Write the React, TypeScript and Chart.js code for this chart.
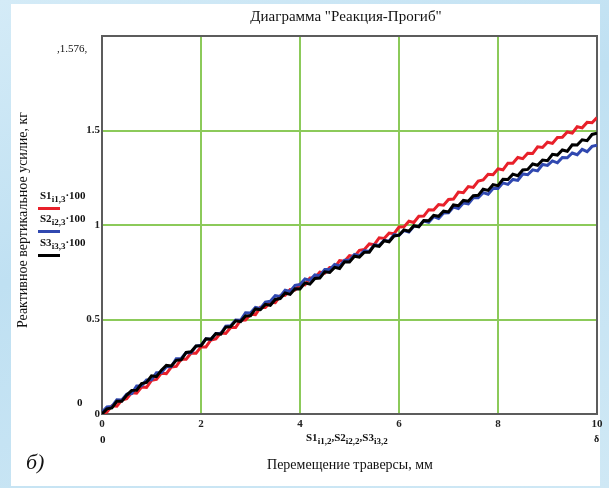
import React, { useEffect, useRef } from "react";
import { Chart, registerables } from "chart.js";
Chart.register(...registerables);

const xValues = [0, 0.1, 0.2, 0.3, 0.4, 0.5, 0.6, 0.7, 0.8, 0.9, 1, 1.1, 1.2, 1.3, 1.4, 1.5, 1.6, 1.7, 1.8, 1.9, 2, 2.1, 2.2, 2.3, 2.4, 2.5, 2.6, 2.7, 2.8, 2.9, 3, 3.1, 3.2, 3.3, 3.4, 3.5, 3.6, 3.7, 3.8, 3.9, 4, 4.1, 4.2, 4.3, 4.4, 4.5, 4.6, 4.7, 4.8, 4.9, 5, 5.1, 5.2, 5.3, 5.4, 5.5, 5.6, 5.7, 5.8, 5.9, 6, 6.1, 6.2, 6.3, 6.4, 6.5, 6.6, 6.7, 6.8, 6.9, 7, 7.1, 7.2, 7.3, 7.4, 7.5, 7.6, 7.7, 7.8, 7.9, 8, 8.1, 8.2, 8.3, 8.4, 8.5, 8.6, 8.7, 8.8, 8.9, 9, 9.1, 9.2, 9.3, 9.4, 9.5, 9.6, 9.7, 9.8, 9.9, 10];

const s1Values = [0.0, 0.01, 0.043, 0.041, 0.074, 0.081, 0.113, 0.11, 0.143, 0.141, 0.178, 0.183, 0.216, 0.213, 0.248, 0.252, 0.29, 0.29, 0.323, 0.322, 0.355, 0.355, 0.392, 0.397, 0.429, 0.426, 0.458, 0.458, 0.496, 0.497, 0.528, 0.526, 0.564, 0.563, 0.591, 0.589, 0.625, 0.628, 0.658, 0.656, 0.686, 0.683, 0.719, 0.719, 0.751, 0.746, 0.775, 0.775, 0.812, 0.808, 0.838, 0.834, 0.866, 0.871, 0.9, 0.896, 0.932, 0.929, 0.957, 0.954, 0.989, 0.99, 1.02, 1.013, 1.046, 1.047, 1.081, 1.079, 1.108, 1.105, 1.135, 1.137, 1.174, 1.171, 1.203, 1.199, 1.232, 1.238, 1.268, 1.266, 1.297, 1.292, 1.327, 1.327, 1.357, 1.351, 1.38, 1.378, 1.414, 1.41, 1.438, 1.432, 1.463, 1.464, 1.492, 1.486, 1.52, 1.514, 1.543, 1.541, 1.568];

const s2Values = [0.01, 0.037, 0.04, 0.075, 0.074, 0.105, 0.108, 0.148, 0.149, 0.18, 0.181, 0.218, 0.219, 0.25, 0.251, 0.292, 0.294, 0.325, 0.324, 0.359, 0.364, 0.398, 0.395, 0.426, 0.426, 0.465, 0.467, 0.497, 0.496, 0.535, 0.534, 0.564, 0.559, 0.592, 0.596, 0.626, 0.622, 0.655, 0.648, 0.681, 0.685, 0.715, 0.707, 0.736, 0.732, 0.764, 0.764, 0.791, 0.783, 0.813, 0.813, 0.844, 0.837, 0.864, 0.86, 0.895, 0.892, 0.919, 0.914, 0.949, 0.945, 0.971, 0.963, 0.993, 0.994, 1.021, 1.014, 1.044, 1.034, 1.064, 1.065, 1.095, 1.087, 1.116, 1.112, 1.144, 1.144, 1.171, 1.163, 1.193, 1.193, 1.223, 1.215, 1.241, 1.236, 1.27, 1.266, 1.292, 1.286, 1.32, 1.315, 1.339, 1.329, 1.357, 1.356, 1.381, 1.372, 1.4, 1.388, 1.416, 1.422];

const s3Values = [0.0, 0.027, 0.032, 0.067, 0.067, 0.1, 0.125, 0.126, 0.161, 0.167, 0.202, 0.198, 0.232, 0.257, 0.254, 0.284, 0.287, 0.326, 0.329, 0.36, 0.361, 0.398, 0.396, 0.425, 0.422, 0.459, 0.462, 0.493, 0.489, 0.519, 0.52, 0.556, 0.552, 0.58, 0.575, 0.606, 0.611, 0.64, 0.633, 0.663, 0.662, 0.694, 0.687, 0.717, 0.719, 0.752, 0.749, 0.776, 0.77, 0.805, 0.804, 0.835, 0.83, 0.856, 0.856, 0.892, 0.887, 0.917, 0.911, 0.942, 0.946, 0.974, 0.967, 0.996, 0.99, 1.024, 1.023, 1.051, 1.046, 1.073, 1.069, 1.106, 1.102, 1.13, 1.126, 1.155, 1.157, 1.189, 1.183, 1.213, 1.208, 1.242, 1.241, 1.269, 1.261, 1.291, 1.294, 1.323, 1.316, 1.344, 1.34, 1.374, 1.37, 1.397, 1.39, 1.424, 1.423, 1.451, 1.446, 1.479, 1.485];

const xTickLabels = ["0", "2", "4", "6", "8", "10"];
const yTickLabels = ["0", "0.5", "1", "1.5"];

const FONT = "'Liberation Serif', 'Times New Roman', serif";

const framePlugin = {
  id: "frame",
  beforeDatasetsDraw(chart: any) {
    const { ctx, chartArea: a } = chart;
    ctx.save();
    ctx.strokeStyle = "#5c5c5c";
    ctx.lineWidth = 2;
    ctx.strokeRect(a.left, a.top, a.right - a.left, a.bottom - a.top);
    ctx.restore();
  },
};

const abs = (x: number, y: number, extra: any = {}) => ({
  position: "absolute" as const,
  left: x,
  top: y,
  whiteSpace: "nowrap" as const,
  fontFamily: FONT,
  color: "#111",
  ...extra,
});

export default function App() {
  const ref = useRef<HTMLCanvasElement>(null);
  useEffect(() => {
    const mk = (vals: number[]) => xValues.map((x, i) => ({ x, y: vals[i] }));
    const chart = new Chart(ref.current!, {
      type: "line",
      data: {
        datasets: [
          { label: "S3", data: mk(s3Values), borderColor: "#000000", borderWidth: 3, pointRadius: 0, tension: 0 },
          { label: "S2", data: mk(s2Values), borderColor: "#3048b0", borderWidth: 3, pointRadius: 0, tension: 0 },
          { label: "S1", data: mk(s1Values), borderColor: "#e8202a", borderWidth: 3, pointRadius: 0, tension: 0 },
        ],
      },
      options: {
        animation: false,
        responsive: false,
        events: [],
        layout: { padding: { left: 0, top: 36, right: 12, bottom: 0 } },
        plugins: { legend: { display: false }, tooltip: { enabled: false }, title: { display: false } },
        scales: {
          x: {
            type: "linear",
            min: 0,
            max: 10,
            afterFit: (s: any) => { s.height = 74; },
            ticks: {
              stepSize: 2,
              padding: 4,
              color: "#222",
              font: { family: FONT, size: 11, weight: "bold" },
              callback: (v: any) => xTickLabels[Math.round(Number(v) / 2)] ?? "",
            },
            grid: {
              color: (c: any) => (c.tick && (c.tick.value === 0 || c.tick.value === 10) ? "rgba(0,0,0,0)" : "#8cca5a"),
              lineWidth: 2,
              drawTicks: false,
            },
            border: { display: false },
          },
          y: {
            type: "linear",
            min: 0,
            max: 2,
            afterFit: (s: any) => { s.width = 102; },
            ticks: {
              stepSize: 0.5,
              padding: 2,
              color: "#222",
              font: { family: FONT, size: 11, weight: "bold" },
              callback: (v: any) => yTickLabels[Math.round(Number(v) * 2)] ?? "",
            },
            grid: {
              color: (c: any) => (c.tick && (c.tick.value === 0 || c.tick.value === 2) ? "rgba(0,0,0,0)" : "#8cca5a"),
              lineWidth: 2,
              drawTicks: false,
            },
            border: { display: false },
          },
        },
      },
      plugins: [framePlugin],
    });
    return () => chart.destroy();
  }, []);

  const legendItem = (name: string, sub: string, color: string, y: number) => (
    <div style={abs(40, y, { fontSize: 11, fontWeight: "bold" })}>
      <span>{name}</span>
      <sub style={{ fontSize: 9 }}>{sub}</sub>
      <span>·100</span>
      <div style={{ position: "absolute", left: -2, top: 18, width: 22, height: 3, background: color }} />
    </div>
  );

  return (
    <div
      style={{
        position: "fixed",
        left: 0,
        top: 0,
        width: 609,
        height: 488,
        overflow: "hidden",
        background: "linear-gradient(160deg, #d4ebf7 0%, #bfe0f2 40%, #cfe8f5 100%)",
      }}
    >
      <div style={{ position: "absolute", left: 11, top: 4, width: 589, height: 482, background: "#fff" }} />
      <canvas ref={ref} width={609} height={488} style={{ position: "absolute", left: 0, top: 0 }} />
      <div style={abs(0, 8, { width: 692, textAlign: "center", fontSize: 15 })}>Диаграмма "Реакция-Прогиб"</div>
      <div style={abs(57, 42, { fontSize: 11 })}>,1.576,</div>
      <div style={abs(77, 396, { fontSize: 11, fontWeight: "bold" })}>0</div>
      <div
        style={abs(23, 220, {
          fontSize: 14,
          transform: "translate(-50%, -50%) rotate(-90deg)",
        })}
      >
        Реактивное вертикальное усилие, кг
      </div>
      {legendItem("S1", "i1,3", "#e8202a", 189)}
      {legendItem("S2", "i2,3", "#3048b0", 212)}
      {legendItem("S3", "i3,3", "#000000", 236)}
      <div style={abs(100, 433, { fontSize: 11, fontWeight: "bold" })}>0</div>
      <div style={abs(306, 431, { fontSize: 11, fontWeight: "bold" })}>
        S1<sub style={{ fontSize: 9 }}>i1,2</sub>,S2<sub style={{ fontSize: 9 }}>i2,2</sub>,S3<sub style={{ fontSize: 9 }}>i3,2</sub>
      </div>
      <div style={abs(594, 433, { fontSize: 10, fontWeight: "bold" })}>δ</div>
      <div style={abs(26, 449, { fontSize: 22, fontStyle: "italic" })}>б)</div>
      <div style={abs(0, 457, { width: 700, textAlign: "center", fontSize: 14 })}>Перемещение траверсы, мм</div>
    </div>
  );
}
